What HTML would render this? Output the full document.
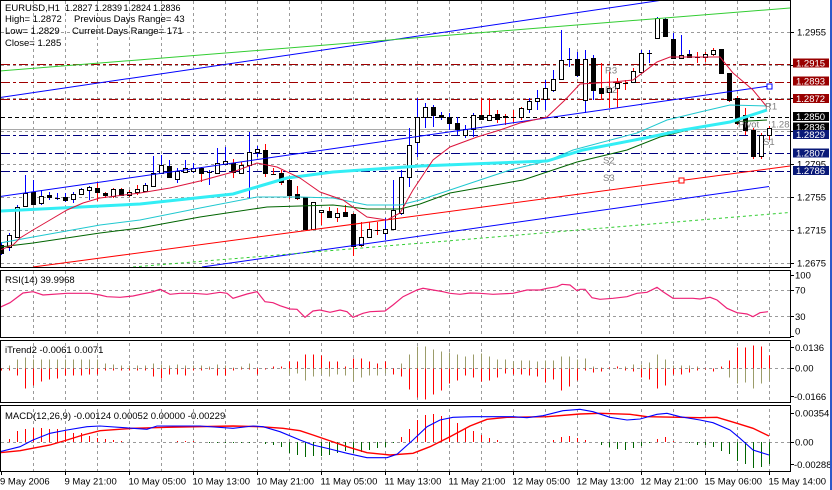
<!DOCTYPE html>
<html><head><meta charset="utf-8"><style>
html,body{margin:0;padding:0;background:#fff;}
svg{display:block;}
text{font-family:"Liberation Sans",Arial,sans-serif;font-size:9.5px;fill:#000;}
.lbl{fill:#fff;}
.pv{fill:#808080;}
.sm{font-size:9px;}
</style></head><body>
<svg width="832" height="490" viewBox="0 0 832 490" xmlns="http://www.w3.org/2000/svg">
<defs>
<clipPath id="cm"><rect x="1" y="1" width="789" height="266"/></clipPath>
<clipPath id="cr"><rect x="1" y="271" width="789" height="66"/></clipPath>
<clipPath id="ci"><rect x="1" y="341" width="789" height="61"/></clipPath>
<clipPath id="cd"><rect x="1" y="406" width="789" height="65"/></clipPath>
</defs>
<rect width="832" height="490" fill="#fff"/>

<path d="M33.5 1V471M65.5 1V471M97.5 1V471M129.5 1V471M161.5 1V471M193.5 1V471M225.5 1V471M257.5 1V471M289.5 1V471M321.5 1V471M353.5 1V471M385.5 1V471M417.5 1V471M449.5 1V471M481.5 1V471M513.5 1V471M545.5 1V471M577.5 1V471M609.5 1V471M641.5 1V471M673.5 1V471M705.5 1V471M737.5 1V471M769.5 1V471" stroke="#9a9a9a" stroke-width="1" stroke-dasharray="3,3" fill="none"/>
<rect x="0" y="268" width="791" height="2" fill="#fff"/>
<rect x="0" y="338" width="791" height="2" fill="#fff"/>
<rect x="0" y="403" width="791" height="2" fill="#fff"/>

<path d="M1 32.5H790M1 65.5H790M1 98.5H790M1 131.5H790M1 164.5H790M1 197.5H790M1 230.5H790M1 263.5H790" stroke="#9a9a9a" stroke-dasharray="3,3" fill="none"/>
<path d="M1 290.5H790M1 316.5H790M1 368.5H790M1 442.5H790" stroke="#9a9a9a" stroke-dasharray="3,3" fill="none"/>

<g clip-path="url(#cm)">
<path d="M1 64.5H790M1 82.5H790M1 99.5H790" stroke="#a00000" stroke-dasharray="9,3,3,3" fill="none"/>
<path d="M1 117.5H790" stroke="#000" stroke-dasharray="4,3" fill="none"/>
<path d="M1 129.5H790" stroke="#a8a8a8" fill="none"/>
<path d="M1 135.5H790M1 153.5H790M1 171.5H790" stroke="#000080" stroke-dasharray="9,3,3,3" fill="none"/>

<path stroke="#0000ff" fill="none" d="M1.5 242V255M9.5 233V251M17.5 205V237M25.5 175V207M33.5 180V205M41.5 190V205M49.5 192V200M57.5 193V200M65.5 193V202M73.5 192V203M81.5 188V195M89.5 186V200M145.5 183V192M153.5 156V187M161.5 155V173M169.5 160V178M177.5 168V183M185.5 160V173M193.5 163V173M209.5 170V185M217.5 148V173M225.5 147V164M249.5 132V198M257.5 146V157M385.5 218V240M393.5 180V230M401.5 170V215M409.5 128V187M417.5 98V157M425.5 103V128M433.5 105V127M441.5 112V120M449.5 113V130M457.5 117V135M465.5 125V138M473.5 113V137M529.5 98V113M537.5 90V110M545.5 80V110M553.5 70V92M561.5 30V80M569.5 48V67M577.5 52V77M585.5 50V113M593.5 55V100M641.5 50V72M649.5 50V63M657.5 17V39M665.5 18V36M673.5 33V58M681.5 35V58M689.5 50V58"/>
<path stroke="#ff0000" fill="none" d="M97.5 183V201M105.5 192V198M113.5 188V198M121.5 188V196M129.5 190V197M137.5 185V195M201.5 167V182M233.5 159V178M241.5 162V173M265.5 144V177M273.5 168V175M281.5 170V185M289.5 178V199M297.5 186V200M305.5 197V230M313.5 202V230M321.5 210V225M329.5 207V218M337.5 208V222M345.5 205V217M353.5 213V256M361.5 222V247M369.5 222V238M377.5 222V235M481.5 98V120M489.5 98V120M497.5 110V123M505.5 114V125M513.5 110V123M521.5 107V120M601.5 63V100M609.5 72V108M617.5 78V108M625.5 80V90M633.5 68V83M697.5 52V63M705.5 52V62M713.5 48V56M721.5 49V74M729.5 73V102M737.5 96V125M745.5 108V135M753.5 128V159M761.5 133V159M769.5 126V140"/>

<g fill="#fff" stroke="#000" stroke-width="1">
<rect x="7.5" y="235.5" width="4" height="12"/>
<rect x="15.5" y="207.5" width="4" height="30"/>
<rect x="23.5" y="193.5" width="4" height="13"/>
<rect x="39.5" y="196.5" width="4" height="7"/>
<rect x="71.5" y="194.5" width="4" height="5"/>
<rect x="79.5" y="189.5" width="4" height="5"/>
<rect x="87.5" y="187.5" width="4" height="3"/>
<rect x="111.5" y="189.5" width="4" height="7"/>
<rect x="127.5" y="192.5" width="4" height="3"/>
<rect x="135.5" y="189.5" width="4" height="3"/>
<rect x="143.5" y="185.5" width="4" height="6"/>
<rect x="151.5" y="173.5" width="4" height="13"/>
<rect x="159.5" y="165.5" width="4" height="8"/>
<rect x="175.5" y="171.5" width="4" height="8"/>
<rect x="183.5" y="168.5" width="4" height="4"/>
<rect x="191.5" y="168.5" width="4" height="3"/>
<rect x="215.5" y="163.5" width="4" height="10"/>
<rect x="223.5" y="161.5" width="4" height="3"/>
<rect x="239.5" y="165.5" width="4" height="8"/>
<rect x="247.5" y="152.5" width="4" height="13"/>
<rect x="255.5" y="149.5" width="4" height="3"/>
<rect x="311.5" y="202.5" width="4" height="27"/>
<rect x="319.5" y="210.5" width="4" height="2"/>
<rect x="335.5" y="213.5" width="4" height="4"/>
<rect x="359.5" y="237.5" width="4" height="8"/>
<rect x="367.5" y="229.5" width="4" height="8"/>
<rect x="383.5" y="229.5" width="4" height="4"/>
<rect x="391.5" y="210.5" width="4" height="19"/>
<rect x="399.5" y="177.5" width="4" height="36"/>
<rect x="407.5" y="145.5" width="4" height="32"/>
<rect x="415.5" y="117.5" width="4" height="25"/>
<rect x="423.5" y="107.5" width="4" height="10"/>
<rect x="463.5" y="129.5" width="4" height="6"/>
<rect x="471.5" y="115.5" width="4" height="14"/>
<rect x="487.5" y="115.5" width="4" height="5"/>
<rect x="519.5" y="108.5" width="4" height="9"/>
<rect x="527.5" y="101.5" width="4" height="8"/>
<rect x="535.5" y="98.5" width="4" height="3"/>
<rect x="543.5" y="88.5" width="4" height="11"/>
<rect x="551.5" y="79.5" width="4" height="11"/>
<rect x="559.5" y="60.5" width="4" height="19"/>
<rect x="583.5" y="59.5" width="4" height="41"/>
<rect x="607.5" y="88.5" width="4" height="4"/>
<rect x="615.5" y="83.5" width="4" height="5"/>
<rect x="631.5" y="71.5" width="4" height="11"/>
<rect x="639.5" y="53.5" width="4" height="19"/>
<rect x="655.5" y="18.5" width="4" height="20"/>
<rect x="679.5" y="55.5" width="4" height="3"/>
<rect x="703.5" y="54.5" width="4" height="3"/>
<rect x="711.5" y="50.5" width="4" height="4"/>
<rect x="759.5" y="135.5" width="4" height="21"/>
<rect x="767.5" y="128.5" width="4" height="7"/>
</g>
<g fill="#000">
<rect x="-1" y="245" width="5" height="9"/>
<rect x="31" y="192" width="5" height="13"/>
<rect x="47" y="195" width="5" height="3"/>
<rect x="63" y="197" width="5" height="4"/>
<rect x="95" y="188" width="5" height="5"/>
<rect x="103" y="193" width="5" height="3"/>
<rect x="119" y="189" width="5" height="7"/>
<rect x="167" y="166" width="5" height="12"/>
<rect x="199" y="168" width="5" height="6"/>
<rect x="231" y="163" width="5" height="10"/>
<rect x="263" y="150" width="5" height="24"/>
<rect x="279" y="173" width="5" height="10"/>
<rect x="287" y="180" width="5" height="16"/>
<rect x="295" y="194" width="5" height="5"/>
<rect x="303" y="197" width="5" height="33"/>
<rect x="327" y="211" width="5" height="7"/>
<rect x="343" y="212" width="5" height="5"/>
<rect x="351" y="214" width="5" height="33"/>
<rect x="431" y="107" width="5" height="9"/>
<rect x="439" y="115" width="5" height="3"/>
<rect x="447" y="117" width="5" height="7"/>
<rect x="455" y="123" width="5" height="7"/>
<rect x="479" y="115" width="5" height="5"/>
<rect x="495" y="114" width="5" height="6"/>
<rect x="503" y="116" width="5" height="2"/>
<rect x="575" y="59" width="5" height="17"/>
<rect x="591" y="58" width="5" height="33"/>
<rect x="599" y="88" width="5" height="6"/>
<rect x="663" y="19" width="5" height="18"/>
<rect x="671" y="39" width="5" height="20"/>
<rect x="687" y="54" width="5" height="4"/>
<rect x="719" y="49" width="5" height="25"/>
<rect x="727" y="73" width="5" height="28"/>
<rect x="735" y="98" width="5" height="26"/>
<rect x="743" y="115" width="5" height="16"/>
<rect x="751" y="130" width="5" height="27"/>
</g>
<path stroke="#000" fill="none" d="M55 198.5h5M207 172.5h5M271 174.5h5M375 230.5h5M511 117.5h5M567 59.5h5M623 83.5h5M647 53.5h5M695 57.5h5"/>

<path d="M0 97.5L663 0" stroke="#0000ff" fill="none"/>
<path d="M0 71L790 8" stroke="#32cd32" fill="none"/>
<path d="M0 196.5L769 86" stroke="#0000ff" fill="none"/>
<path d="M33 267L790 166" stroke="#ff0000" fill="none"/>
<path d="M202 267L769 186.5" stroke="#0000ff" fill="none"/>
<path d="M133 267L790 212.5" stroke="#32cd32" stroke-dasharray="3,3" fill="none"/>
<rect x="767" y="84" width="5" height="5" fill="#fff" stroke="#0000ff"/>
<rect x="679" y="178" width="5" height="5" fill="#fff" stroke="#ff0000"/>

<polyline fill="none" stroke="#006400" stroke-width="1" points="0,247 33,243 100,233 140,228 200,217 267,207 333,205 367,209 400,209 420,204 450,193 523,180 553,170 577,162 627,150 660,137 700,127 730,122 767,120"/>
<polyline fill="none" stroke="#20c8d0" stroke-width="1" points="0,243 33,237 100,225 140,220 200,208 257,197 300,197 333,198 367,205 400,205 420,200 450,190 510,170 547,161 573,150 637,133 667,120 700,112 730,105 767,106"/>
<polyline fill="none" stroke="#33eef5" stroke-width="3" points="0,211 140,204 233,194 260,186 287,178 333,172 420,166 547,161 583,150 650,137 683,130 730,122 767,110"/>
<polyline fill="none" stroke="#dc143c" stroke-width="1" points="0,250 13,245 20,238 33,230 50,220 67,210 83,203 100,198 140,193 170,188 200,181 233,172 257,163 277,167 300,178 320,192 343,200 367,217 387,220 400,213 413,190 433,160 450,147 477,137 500,130 520,123 547,117 565,100 580,84 613,82 633,80 657,62 670,57 710,57 720,57 733,73 753,90 767,107"/>

<text class="pv" x="605" y="73.5">R3</text>
<text class="pv" x="605" y="93">R2</text>
<text class="pv" x="765" y="109.5">R1</text>
<text class="pv" x="738" y="127.5">Pivot</text>
<text class="pv" x="771" y="127.5">1.2829</text>
<text class="pv" x="763" y="145">S1</text>
<text class="pv" x="603" y="163.5">S2</text>
<text class="pv" x="603" y="181">S3</text>

<text x="5" y="11">EURUSD,H1</text>
<text class="sm" x="65" y="11">1.2827</text>
<text class="sm" x="94.5" y="11">1.2839</text>
<text class="sm" x="123.5" y="11">1.2824</text>
<text class="sm" x="153" y="11">1.2836</text>
<text x="5" y="22">High= 1.2872</text>
<text x="74" y="22">Previous Days Range= 43</text>
<text x="5" y="34">Low= 1.2829</text>
<text x="72" y="34">Current Days Range= 171</text>
<text x="5" y="46">Close= 1.285</text>
</g>

<g clip-path="url(#cr)">
<polyline fill="none" stroke="#ee2277" stroke-width="1.2" points="0,307.3 10,302.7 23,293 33,291.7 43,295 67,293.3 90,293.3 100,295 107,296.7 120,297.3 133,296 153,291.7 160,289.3 170,294.3 180,293.3 193,293.3 207,294.3 220,292.3 227,293.3 233,298.3 247,294 257,291.7 265,301.7 273,302.7 280,305.7 290,309 297,309.3 305,317.3 313,311 320,310 330,312.3 340,310 347,311.7 353,317.3 363,313.3 370,311.7 385,311 393,305 403,296.7 417,290 423,288.3 433,290 443,291.7 450,293.3 460,294.3 470,293 480,293.3 493,294.3 513,293.3 527,290 540,290 547,288.3 557,286.7 562,284.3 570,285 577,290.7 580,289.3 585,289.3 592,297.7 600,299.3 613,298.3 627,296.7 637,293.3 647,292.3 657,287.3 663,291.7 673,298.3 680,298.3 693,298.3 700,299 710,297.3 717,300 727,308.3 737,312.7 747,314 753,316.7 760,312.7 768,311.7"/>
<text x="5" y="283">RSI(14) 39.9968</text>
</g>

<g clip-path="url(#ci)">
<path stroke="#9c9c6a" stroke-width="1" fill="none" d="M9.5 368.5v-3M17.5 368.5v-9M25.5 368.5v-11M33.5 368.5v-9M41.5 368.5v-9M49.5 368.5v-9M57.5 368.5v-9M65.5 368.5v-9M73.5 368.5v-9M81.5 368.5v-9M89.5 368.5v-9M97.5 368.5v-9M105.5 368.5v-5M113.5 368.5v-4M121.5 368.5v-3M129.5 368.5v-3M137.5 368.5v-3M145.5 368.5v-3M153.5 368.5v-5M161.5 368.5v-4M169.5 368.5v-3M177.5 368.5v-4M185.5 368.5v-3M193.5 368.5v-3M201.5 368.5v-3M209.5 368.5v-2M217.5 368.5v-4M225.5 368.5v-3M233.5 368.5v-1M241.5 368.5v-2M249.5 368.5v-5M289.5 368.5v6M297.5 368.5v5M305.5 368.5v12M313.5 368.5v8M321.5 368.5v6M329.5 368.5v8M337.5 368.5v6M345.5 368.5v7M353.5 368.5v13M361.5 368.5v9M369.5 368.5v7M377.5 368.5v7M385.5 368.5v5M401.5 368.5v-5M409.5 368.5v-14M417.5 368.5v-22M425.5 368.5v-22M433.5 368.5v-19M441.5 368.5v-17M449.5 368.5v-16M457.5 368.5v-14M465.5 368.5v-12M473.5 368.5v-14M481.5 368.5v-15M489.5 368.5v-12M497.5 368.5v-9M505.5 368.5v-9M513.5 368.5v-7M521.5 368.5v-8M529.5 368.5v-8M537.5 368.5v-7M545.5 368.5v-8M553.5 368.5v-8M561.5 368.5v-12M569.5 368.5v-12M577.5 368.5v-9M585.5 368.5v-10M593.5 368.5v-2M601.5 368.5v-1M625.5 368.5v-2M633.5 368.5v-4M641.5 368.5v-4M649.5 368.5v-6M657.5 368.5v-14M665.5 368.5v-9M673.5 368.5v-3M681.5 368.5v-3M689.5 368.5v-3M697.5 368.5v-2M729.5 368.5v9M737.5 368.5v15M745.5 368.5v14M753.5 368.5v20M761.5 368.5v15M769.5 368.5v12"/>
<path stroke="#ff0000" stroke-width="1" fill="none" d="M1.5 368.5v2M9.5 368.5v2M17.5 368.5v7M25.5 368.5v20M33.5 368.5v17M41.5 368.5v13M49.5 368.5v11M57.5 368.5v10M65.5 368.5v7M73.5 368.5v7M81.5 368.5v7M89.5 368.5v6M97.5 368.5v6M105.5 368.5v2M113.5 368.5v2M121.5 368.5v2M129.5 368.5v2M137.5 368.5v2M145.5 368.5v2M153.5 368.5v8M161.5 368.5v10M169.5 368.5v6M177.5 368.5v6M185.5 368.5v7M193.5 368.5v2M201.5 368.5v2M209.5 368.5v1M217.5 368.5v7M225.5 368.5v7M233.5 368.5v2M241.5 368.5v1M249.5 368.5v1M257.5 368.5v6M265.5 368.5v1M273.5 368.5v-2M281.5 368.5v-2M289.5 368.5v-7M297.5 368.5v-7M305.5 368.5v-14M313.5 368.5v-14M321.5 368.5v-13M329.5 368.5v-7M337.5 368.5v-7M345.5 368.5v-2M353.5 368.5v-10M361.5 368.5v-10M369.5 368.5v-7M377.5 368.5v-5M385.5 368.5v-7M393.5 368.5v6M401.5 368.5v8M409.5 368.5v21M417.5 368.5v29M425.5 368.5v31M433.5 368.5v26M441.5 368.5v22M449.5 368.5v15M457.5 368.5v12M465.5 368.5v7M473.5 368.5v9M481.5 368.5v13M489.5 368.5v12M497.5 368.5v9M505.5 368.5v5M513.5 368.5v6M521.5 368.5v6M529.5 368.5v7M537.5 368.5v8M545.5 368.5v14M553.5 368.5v11M561.5 368.5v22M569.5 368.5v18M577.5 368.5v12M585.5 368.5v2M593.5 368.5v4M601.5 368.5v3M609.5 368.5v-1M617.5 368.5v-2M625.5 368.5v2M633.5 368.5v3M641.5 368.5v9M649.5 368.5v11M657.5 368.5v20M665.5 368.5v17M673.5 368.5v6M681.5 368.5v6M689.5 368.5v4M697.5 368.5v2M705.5 368.5v1M713.5 368.5v3M721.5 368.5v-2M729.5 368.5v-8M737.5 368.5v-21M745.5 368.5v-21M753.5 368.5v-23M761.5 368.5v-22M769.5 368.5v-13"/>
<text x="5" y="353">iTrend2 -0.0061 0.0071</text>
</g>

<g clip-path="url(#cd)">
<path stroke="#ff0000" stroke-width="1" fill="none" d="M9.5 442v-3M17.5 442v-11M25.5 442v-13M33.5 442v-14M41.5 442v-14M49.5 442v-13M57.5 442v-13M65.5 442v-11M73.5 442v-9M81.5 442v-9M89.5 442v-6M97.5 442v-4M105.5 442v-3M113.5 442v-2M121.5 442v-1M177.5 442v-1M185.5 442v-1M193.5 442v-1M401.5 442v-5M409.5 442v-13M417.5 442v-22M425.5 442v-27M433.5 442v-28M441.5 442v-26M449.5 442v-24M457.5 442v-19M465.5 442v-14M473.5 442v-11M481.5 442v-7M489.5 442v-4M497.5 442v-2M553.5 442v-2M561.5 442v-5M569.5 442v-6M577.5 442v-4M585.5 442v-2M657.5 442v-3M665.5 442v-5M673.5 442v-1"/>
<path stroke="#006400" stroke-width="1" fill="none" d="M209.5 442v1M217.5 442v1M225.5 442v1M233.5 442v1M241.5 442v1M249.5 442v1M265.5 442v2M273.5 442v3M281.5 442v5M289.5 442v11M297.5 442v13M305.5 442v15M313.5 442v14M321.5 442v14M329.5 442v13M337.5 442v11M345.5 442v9M353.5 442v11M361.5 442v10M369.5 442v8M377.5 442v6M385.5 442v5M393.5 442v1M601.5 442v3M609.5 442v5M617.5 442v7M625.5 442v8M633.5 442v6M641.5 442v4M649.5 442v1M689.5 442v1M697.5 442v3M705.5 442v3M713.5 442v5M721.5 442v9M729.5 442v12M737.5 442v19M745.5 442v22M753.5 442v26M761.5 442v25M769.5 442v22"/>
<polyline fill="none" stroke="#ff0000" stroke-width="1.4" points="0,452.7 20,450.7 50,445 67,440 83,435 100,430.7 133,428.3 167,427.3 233,426 260,426.7 283,428.3 300,430.7 313,435 347,446.7 367,452.7 390,455 413,453.3 430,446.7 450,436.7 470,426 487,419.3 507,417.3 547,416.7 580,414 600,413.3 630,414.3 647,416.7 700,417.7 717,417.3 737,423.3 753,428.3 769,436"/>
<polyline fill="none" stroke="#0000ff" stroke-width="1.1" points="0,451.7 20,446.7 33,440 50,433.3 67,430 87,426.7 100,426 133,428.3 147,429.3 157,426 200,426 233,428.3 253,426 263,426.7 280,431.7 300,440 313,445 330,449 347,453.3 367,457.7 387,457.7 397,454.3 413,440 427,426.7 440,420 453,417.3 473,416.7 513,416.7 527,417.7 543,415.7 563,410.7 580,409.3 593,411.7 610,417.3 627,420 640,419 657,414.3 667,413.3 680,416.7 700,420 713,422.7 730,430 740,438.3 753,450 769,455"/>
<text x="5" y="419">MACD(12,26,9) -0.00124 0.00052 0.00000 -0.00229</text>
</g>

<g fill="none" stroke="#000" stroke-width="1">
<rect x="0.5" y="0.5" width="790" height="267"/>
<rect x="0.5" y="270.5" width="790" height="67"/>
<rect x="0.5" y="340.5" width="790" height="62"/>
<rect x="0.5" y="405.5" width="790" height="66"/>
</g>

<path stroke="#000" fill="none" d="M790 32.5h4M790 65.5h4M790 98.5h4M790 131.5h4M790 164.5h4M790 197.5h4M790 230.5h4M790 263.5h4M790 275.5h4M790 290.5h4M790 316.5h4M790 336.5h4M790 347.5h4M790 368.5h4M790 396.5h4M790 413.5h4M790 442.5h4M790 464.5h4"/>
<path stroke="#000" fill="none" d="M1.5 471v4M65.5 471v4M129.5 471v4M193.5 471v4M257.5 471v4M321.5 471v4M385.5 471v4M449.5 471v4M513.5 471v4M577.5 471v4M641.5 471v4M705.5 471v4M769.5 471v4"/>

<text x="797" y="35.5">1.2955</text>
<text x="797" y="167.5">1.2795</text>
<text x="797" y="200.5">1.2755</text>
<text x="797" y="233.5">1.2715</text>
<text x="797" y="266.5">1.2675</text>

<rect x="793" y="58.5" width="36" height="9" fill="#990000"/><text class="lbl" x="796" y="66.5">1.2915</text>
<rect x="793" y="76.5" width="36" height="9" fill="#990000"/><text class="lbl" x="796" y="84.5">1.2893</text>
<rect x="793" y="94" width="36" height="9" fill="#990000"/><text class="lbl" x="796" y="102">1.2872</text>
<rect x="793" y="112" width="36" height="9" fill="#000"/><text class="lbl" x="796" y="120">1.2850</text>
<rect x="793" y="122.5" width="36" height="9" fill="#000"/><text class="lbl" x="796" y="130.5">1.2836</text>
<rect x="793" y="130" width="36" height="9" fill="#0a1a78"/><text class="lbl" x="796" y="138">1.2829</text>
<rect x="793" y="148.5" width="36" height="9" fill="#0a1a78"/><text class="lbl" x="796" y="156.5">1.2807</text>
<rect x="793" y="166" width="36" height="9" fill="#0a1a78"/><text class="lbl" x="796" y="174">1.2786</text>

<text x="795" y="278.5">100</text>
<text x="795" y="293.5">70</text>
<text x="795" y="320">30</text>
<text x="795" y="334.5">0</text>
<text x="795" y="351">0.0136</text>
<text x="795" y="371.5">0.00</text>
<text x="794" y="400">-0.0166</text>
<text x="795" y="416.5">0.00354</text>
<text x="795" y="445.5">0.00</text>
<text x="794" y="468">-0.00288</text>

<text x="0" y="484.5">9 May 2006</text>
<text x="64.5" y="484.5">9 May 21:00</text>
<text x="128.5" y="484.5">10 May 05:00</text>
<text x="192.5" y="484.5">10 May 13:00</text>
<text x="256.5" y="484.5">10 May 21:00</text>
<text x="320.5" y="484.5">11 May 05:00</text>
<text x="384.5" y="484.5">11 May 13:00</text>
<text x="448.5" y="484.5">11 May 21:00</text>
<text x="512.5" y="484.5">12 May 05:00</text>
<text x="576.5" y="484.5">12 May 13:00</text>
<text x="640.5" y="484.5">12 May 21:00</text>
<text x="704.5" y="484.5">15 May 06:00</text>
<text x="768.5" y="484.5">15 May 14:00</text>

<rect x="830" y="0" width="2" height="490" fill="#2b5ac8"/>
</svg>
</body></html>
